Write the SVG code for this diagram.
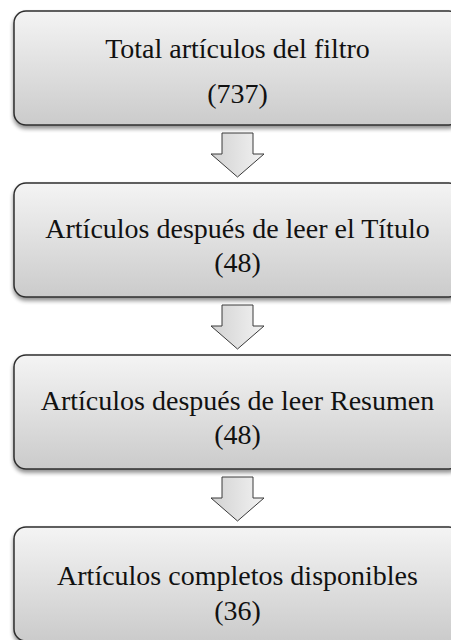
<svg xmlns="http://www.w3.org/2000/svg" width="451" height="640" viewBox="0 0 451 640">
<defs>
<linearGradient id="boxg" x1="0" y1="0" x2="0" y2="1">
<stop offset="0" stop-color="#f4f4f4"/>
<stop offset="1" stop-color="#cbcbcb"/>
</linearGradient>
<linearGradient id="arrg" x1="0" y1="0" x2="1" y2="0">
<stop offset="0" stop-color="#d2d2d2"/>
<stop offset="1" stop-color="#f2f2f2"/>
</linearGradient>
<filter id="sh" x="-10%" y="-10%" width="120%" height="130%">
<feGaussianBlur in="SourceAlpha" stdDeviation="2"/>
<feOffset dx="0" dy="3" result="b"/>
<feComponentTransfer><feFuncA type="linear" slope="0.45"/></feComponentTransfer>
<feMerge><feMergeNode/><feMergeNode in="SourceGraphic"/></feMerge>
</filter>
</defs>
<style>
.box{fill:url(#boxg);stroke:#2e2e2e;stroke-width:1.5;filter:url(#sh)}
.arr{fill:url(#arrg);stroke:#3a3a3a;stroke-width:1;stroke-linejoin:miter}
text{font-family:"Liberation Serif","Times New Roman",serif;font-size:28px;fill:#111;text-anchor:middle}
</style>
<rect width="451" height="640" fill="#ffffff"/>
<g id="connectors">
<path class="arr" d="M222,133 H253 V154 H264 L237.5,177 L211,154 H222 Z"/>
<path class="arr" d="M222,305 H253 V326 H264 L237.5,349 L211,326 H222 Z"/>
<path class="arr" d="M222,477 H253 V498 H264 L237.5,521 L211,498 H222 Z"/>
</g>
<g id="node1">
<rect class="box" x="14" y="11" width="447" height="114" rx="12"/>
<text x="237.5" y="58">Total artículos del filtro</text>
<text x="237.5" y="103">(737)</text>
</g>
<g id="node2">
<rect class="box" x="14" y="183" width="447" height="114" rx="12"/>
<text x="237.5" y="238">Artículos después de leer el Título</text>
<text x="237.5" y="272">(48)</text>
</g>
<g id="node3">
<rect class="box" x="14" y="355" width="447" height="114" rx="12"/>
<text x="237.5" y="410">Artículos después de leer Resumen</text>
<text x="237.5" y="444">(48)</text>
</g>
<g id="node4">
<rect class="box" x="14" y="527" width="447" height="114" rx="12"/>
<text x="237.5" y="585">Artículos completos disponibles</text>
<text x="237.5" y="620">(36)</text>
</g>
</svg>
